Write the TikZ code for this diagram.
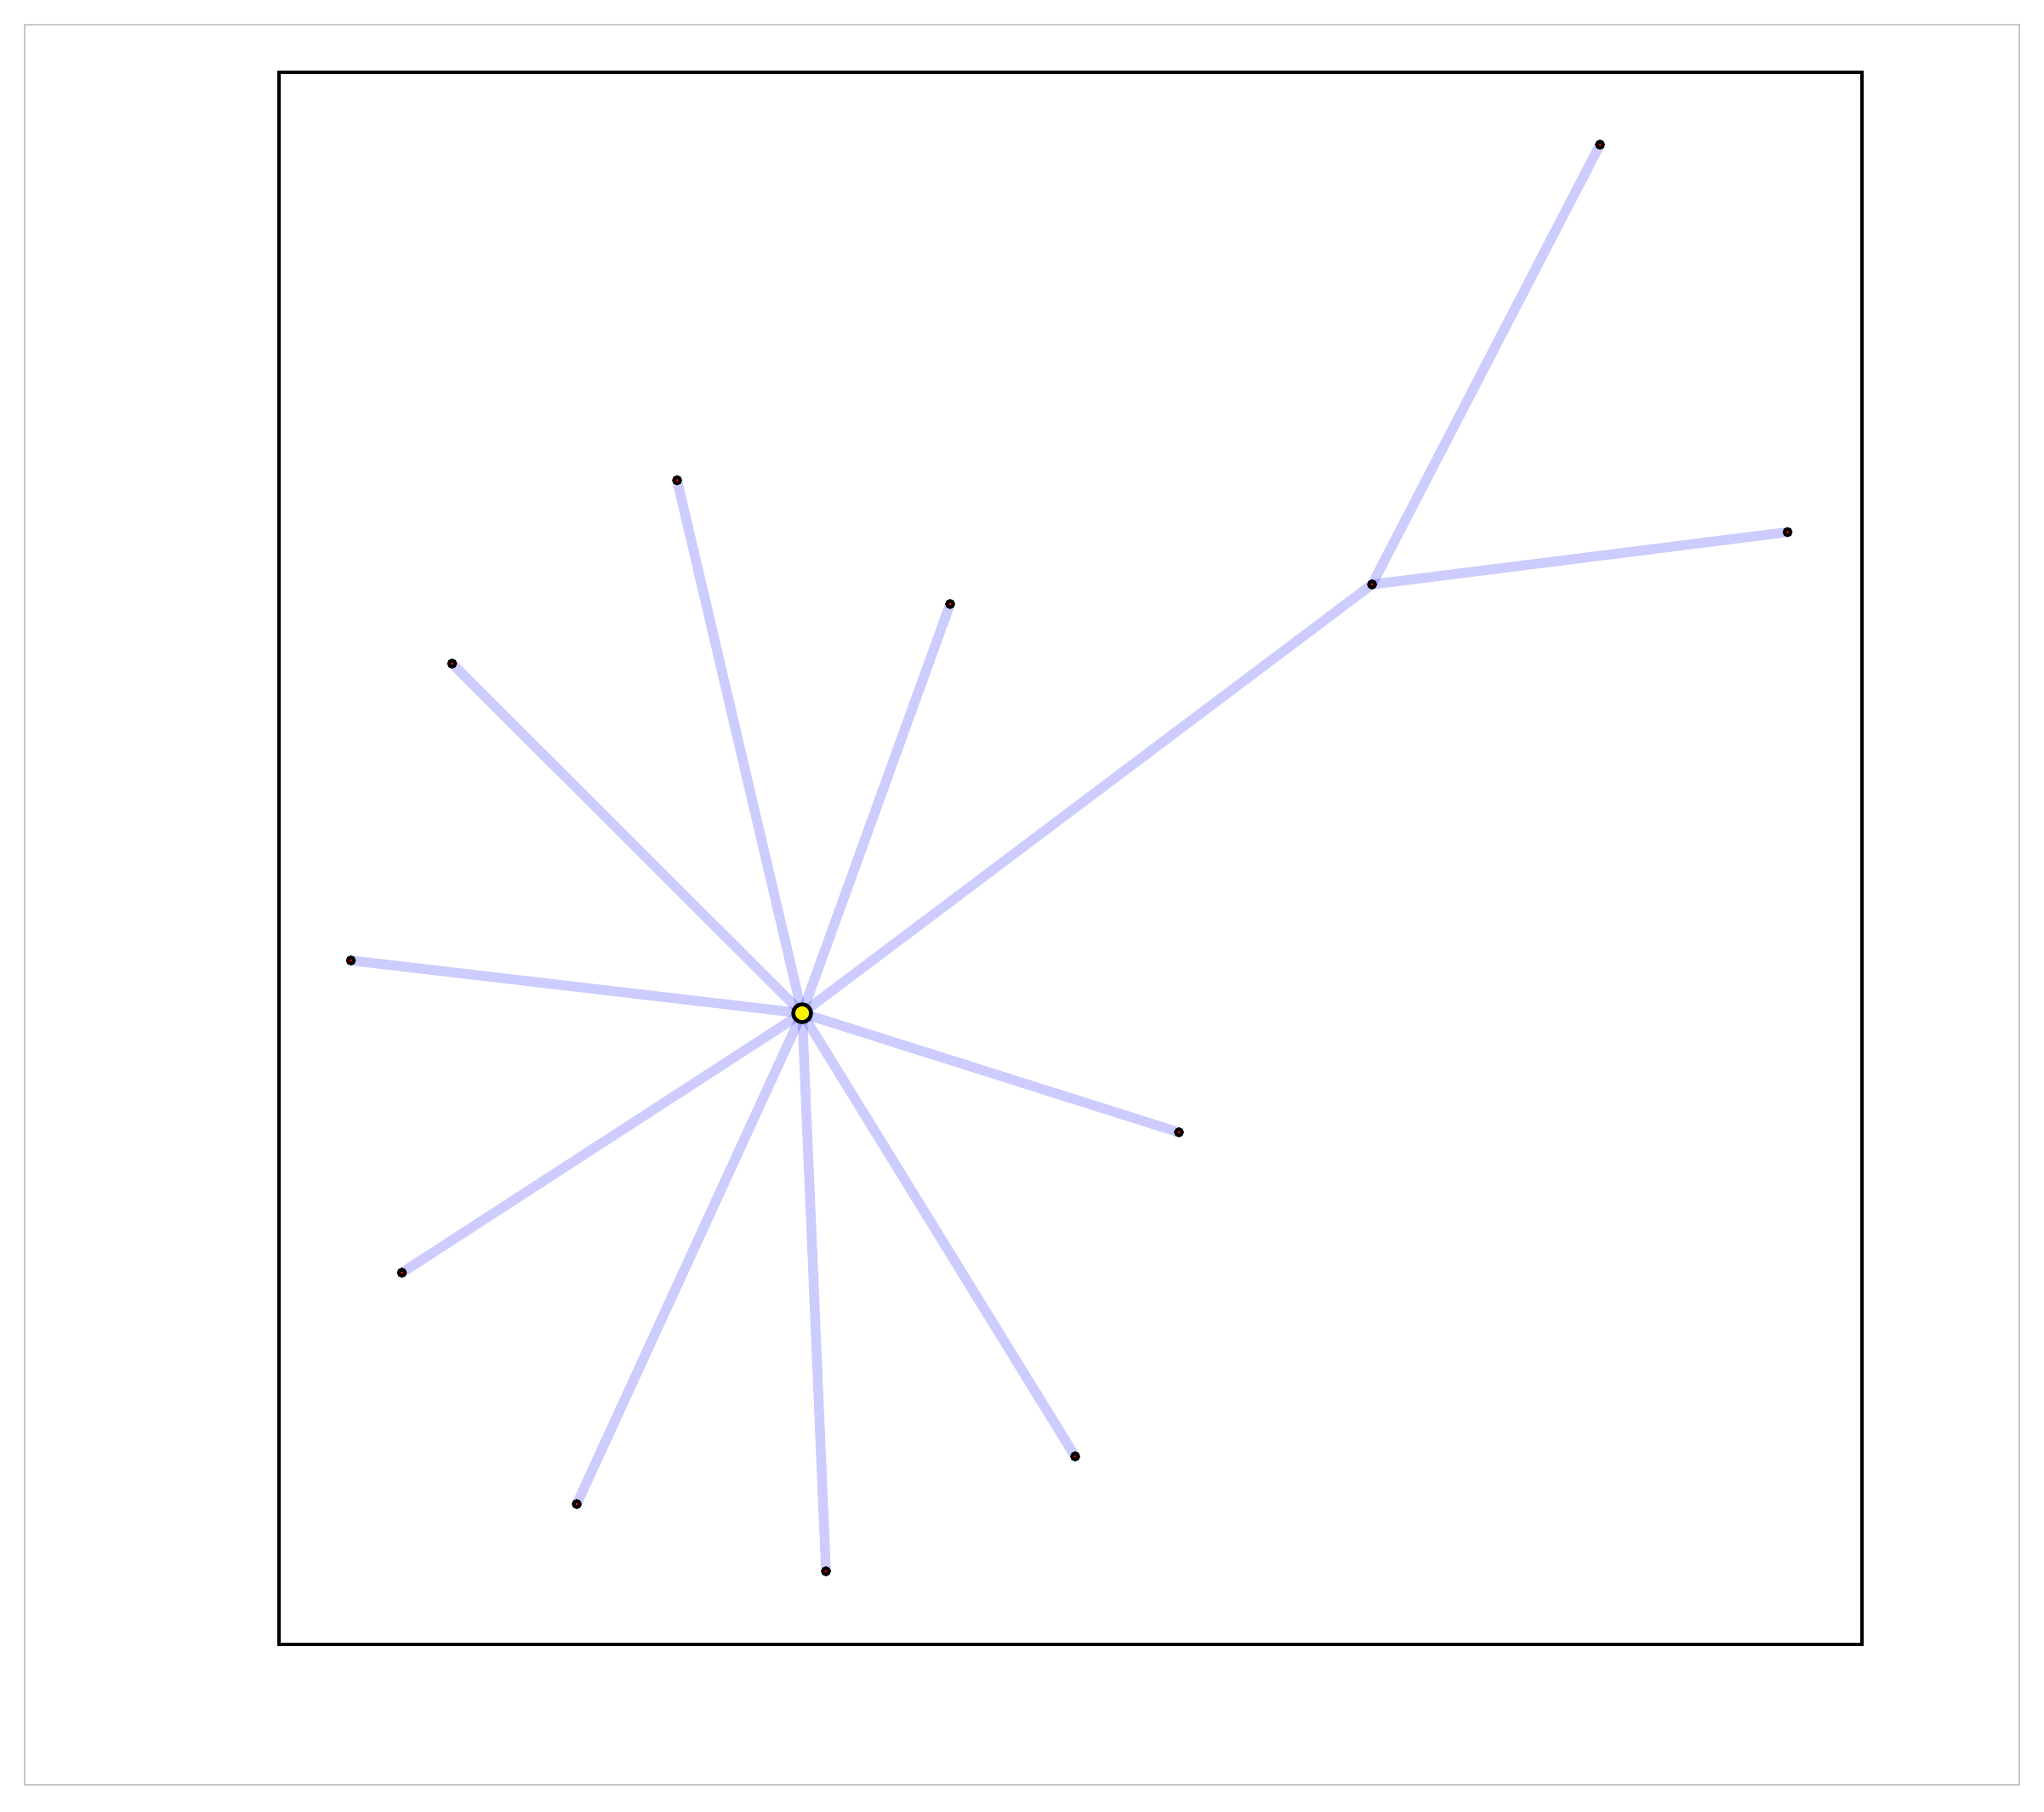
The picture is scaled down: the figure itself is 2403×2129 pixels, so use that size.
\documentclass[tikz,border=0pt]{standalone}
\usetikzlibrary{backgrounds}
\begin{document}
\begin{tikzpicture}[x=0.01cm,y=-0.01cm,
  leaf/.style={circle,draw=black,fill=red,line width=0.04cm,minimum size=0.075cm,inner sep=0pt},
  hub/.style={circle,draw=black,fill=yellow,line width=0.045cm,minimum size=0.21cm,inner sep=0pt},
  link/.style={draw=blue,draw opacity=0.2,line width=0.115cm}]
\useasboundingbox (0,0) rectangle (2403,2129);
\draw[line width=0.02cm,draw={rgb,255:red,200;green,200;blue,200}] (29,29) rectangle (2374,2098);
\draw[line width=0.033cm,black] (328,85) rectangle (2189,1933);
\node[hub] (c) at (943,1191) {};
\node[leaf] (h) at (1613,687) {};
\node[leaf] (a1) at (1881,170) {};
\node[leaf] (a2) at (2101.5,625.5) {};
\node[leaf] (b1) at (796,564.5) {};
\node[leaf] (b2) at (1117,710) {};
\node[leaf] (b3) at (531.5,780) {};
\node[leaf] (b4) at (412.5,1129) {};
\node[leaf] (b5) at (472.5,1496) {};
\node[leaf] (b6) at (678,1768) {};
\node[leaf] (b7) at (971,1847) {};
\node[leaf] (b8) at (1264,1712) {};
\node[leaf] (b9) at (1386,1331) {};
\begin{pgfonlayer}{background}
\foreach \n in {h,b1,b2,b3,b4,b5,b6,b7,b8,b9}
  \path[link] (c.center) -- (\n.center);
\path[link] (h.center) -- (a1.center);
\path[link] (h.center) -- (a2.center);
\end{pgfonlayer}
\end{tikzpicture}
\end{document}
